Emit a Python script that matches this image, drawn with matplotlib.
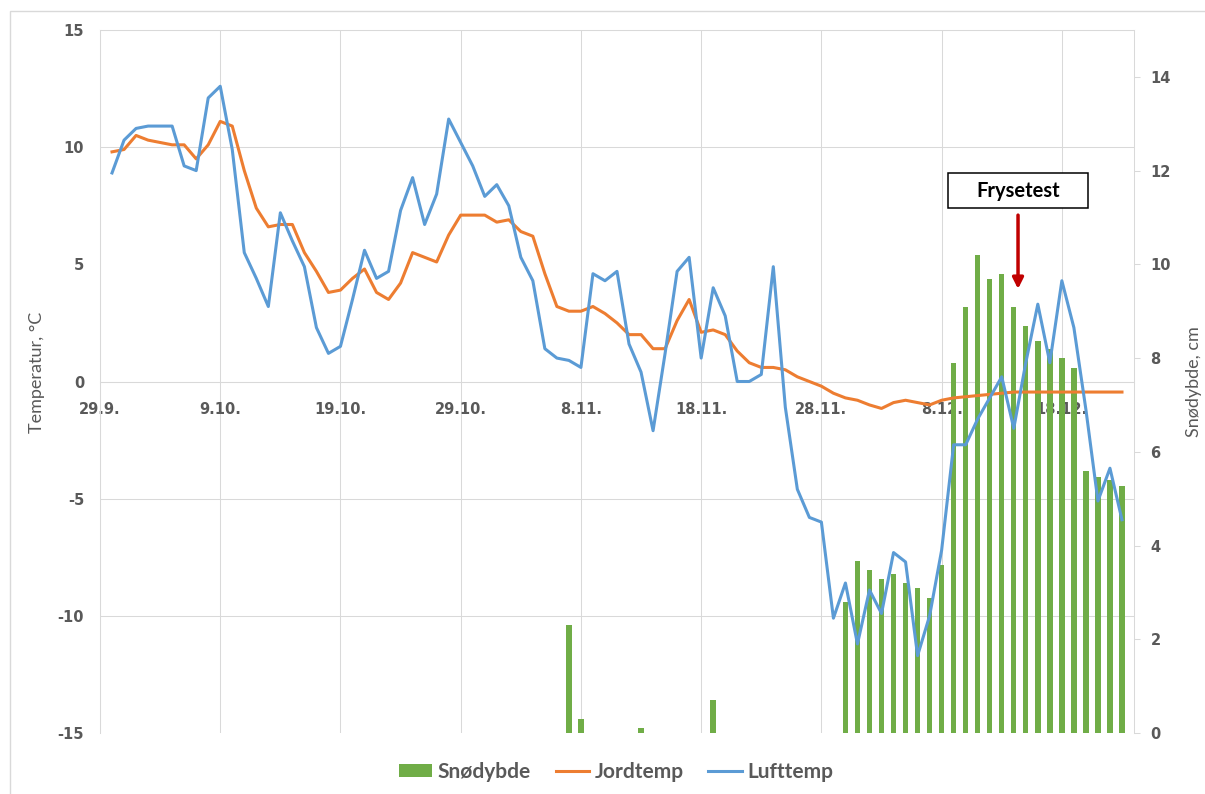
import matplotlib
matplotlib.use("Agg")
import matplotlib.pyplot as plt
import matplotlib.dates as mdates
from matplotlib.ticker import MultipleLocator, FixedLocator, FuncFormatter
from matplotlib.patches import Patch, Rectangle
from matplotlib.lines import Line2D
import pandas as pd

plt.rcParams["font.family"] = ["DejaVu Sans"]
plt.rcParams["font.weight"] = "bold"
plt.rcParams["font.size"] = 10.5
plt.rcParams["axes.unicode_minus"] = False

# ---------------- data ----------------
dates = pd.date_range("2015-09-30", "2015-12-23", freq="D")

lufttemp = [8.9, 10.3, 10.8, 10.9, 10.9, 10.9, 9.2, 9.0, 12.1, 12.6,
            9.9, 5.5, 4.4, 3.2, 7.2, 6.0, 4.9, 2.3, 1.2, 1.5,
            3.5, 5.6, 4.4, 4.7, 7.3, 8.7, 6.7, 8.0, 11.2, 10.2,
            9.2, 7.9, 8.4, 7.5, 5.3, 4.3, 1.4, 1.0, 0.9, 0.6,
            4.6, 4.3, 4.7, 1.6, 0.4, -2.1, 1.2, 4.7, 5.3, 1.0,
            4.0, 2.8, 0.0, 0.0, 0.3, 4.9, -1.1, -4.6, -5.8, -6.0,
            -10.1, -8.6, -11.2, -8.9, -9.9, -7.3, -7.7, -11.7, -10.0, -7.2,
            -2.7, -2.7, -1.6, -0.7, 0.2, -2.0, 0.8, 3.3, 0.8, 4.3,
            2.3, -1.2, -5.1, -3.7, -5.9]

jordtemp = [9.8, 9.9, 10.5, 10.3, 10.2, 10.1, 10.1, 9.5, 10.1, 11.1,
            10.9, 9.0, 7.4, 6.6, 6.7, 6.7, 5.5, 4.7, 3.8, 3.9,
            4.4, 4.8, 3.8, 3.5, 4.2, 5.5, 5.3, 5.1, 6.25, 7.1,
            7.1, 7.1, 6.8, 6.9, 6.4, 6.2, 4.6, 3.2, 3.0, 3.0,
            3.2, 2.9, 2.5, 2.0, 2.0, 1.4, 1.4, 2.6, 3.5, 2.1,
            2.2, 2.0, 1.3, 0.8, 0.6, 0.6, 0.5, 0.2, 0.0, -0.2,
            -0.5, -0.7, -0.8, -1.0, -1.15, -0.9, -0.8, -0.9, -1.0, -0.8,
            -0.7, -0.65, -0.6, -0.55, -0.5, -0.45, -0.45, -0.45, -0.45, -0.45,
            -0.45, -0.45, -0.45, -0.45, -0.45]

snow_dates = pd.to_datetime(
    ["2015-11-07", "2015-11-08", "2015-11-13", "2015-11-19"]
    + [d.strftime("%Y-%m-%d") for d in pd.date_range("2015-11-30", "2015-12-23", freq="D")])
snodybde = [2.3, 0.3, 0.1, 0.7,
            2.8, 3.67, 3.48, 3.28, 3.39, 3.19, 3.09, 2.89, 3.59, 7.89,
            9.1, 10.2, 9.69, 9.8, 9.1, 8.69, 8.37, 8.19, 8.0, 7.78,
            5.58, 5.47, 5.39, 5.28]

tick_dates = pd.date_range("2015-09-29", "2015-12-18", freq="10D")
x_start, x_end = pd.Timestamp("2015-09-29"), pd.Timestamp("2015-12-24")
temp_lim = (-15, 15)
snow_lim = (0, 15)

# annotation (data coordinates)
note_text = "Frysetest"
box_x0, box_x1 = pd.Timestamp("2015-12-08 12:30"), pd.Timestamp("2015-12-20 04:00")
box_y0, box_y1 = 7.40, 8.90
arrow_x = pd.Timestamp("2015-12-14 08:30")
arrow_from, arrow_to = 7.10, 3.95

# ---------------- style ----------------
GREEN, ORANGE, BLUE = "#70AD47", "#ED7D31", "#5B9BD5"
GRID, TXT = "#D9D9D9", "#595959"
TICKSIZE = 10.5

fig = plt.figure(figsize=(12.05, 7.94), dpi=100)
fig.patches.append(Rectangle((10 / 1205, -0.02), 1.1, 1 - 11 / 794 + 0.02,
                             transform=fig.transFigure, fill=False,
                             edgecolor=GRID, linewidth=1.0))

ax_s = fig.add_axes([100 / 1205, 1 - 733 / 794, 1034 / 1205, 703 / 794])
ax_t = ax_s.twinx()

# snow bars on base axes
ax_s.bar(snow_dates, snodybde, width=0.45, color=GREEN, zorder=3)
ax_s.set_ylim(*snow_lim)
ax_s.set_xlim(x_start, x_end)
ax_s.yaxis.tick_right()
ax_s.yaxis.set_label_position("right")
ax_s.yaxis.set_major_locator(MultipleLocator(2))
ax_s.yaxis.set_minor_locator(MultipleLocator(2.5))
ax_s.xaxis.set_major_locator(FixedLocator(mdates.date2num(tick_dates)))
ax_s.xaxis.set_major_formatter(FuncFormatter(
    lambda v, p: "{}.{}.".format(mdates.num2date(v).day, mdates.num2date(v).month)))
ax_s.set_axisbelow(True)
ax_s.grid(axis="y", which="minor", color=GRID, linewidth=0.75)
ax_s.grid(axis="x", which="major", color=GRID, linewidth=0.75)
ax_s.tick_params(axis="y", which="minor", length=0)
ax_s.tick_params(axis="y", which="major", direction="out", length=4.3, width=0.75,
                 color=GRID, pad=7.5, labelcolor=TXT, labelsize=TICKSIZE)
# category (date) axis crosses the temperature axis at 0
zero_frac = (0 - temp_lim[0]) / (temp_lim[1] - temp_lim[0])
ax_s.spines["bottom"].set_position(("axes", zero_frac))
ax_s.tick_params(axis="x", which="both", length=0, pad=14.5, labelcolor=TXT,
                 labelsize=TICKSIZE)
for sp in ax_s.spines.values():
    sp.set_color(GRID)
    sp.set_linewidth(0.75)
ax_s.set_ylabel("Snødybde, cm", family="Lato", weight="normal", size=13, color=TXT)
ax_s.yaxis.set_label_coords(1.050, 0.50)

# temperature lines on top axes
ax_t.plot(dates, jordtemp, color=ORANGE, linewidth=2.2, solid_joinstyle="round", zorder=3)
ax_t.plot(dates, lufttemp, color=BLUE, linewidth=2.2, solid_joinstyle="round", zorder=4)
ax_t.set_ylim(*temp_lim)
ax_t.yaxis.tick_left()
ax_t.yaxis.set_label_position("left")
ax_t.yaxis.set_major_locator(MultipleLocator(5))
ax_t.tick_params(axis="y", length=0, pad=11.5, labelcolor=TXT, labelsize=TICKSIZE)
for sp in ax_t.spines.values():
    sp.set_visible(False)
ax_t.set_ylabel("Temperatur, °C", family="Lato", weight="normal", size=13, color=TXT)
ax_t.yaxis.set_label_coords(-0.053, 0.513)
ax_t.set_xlim(x_start, x_end)

# Frysetest annotation
bx0, bx1 = mdates.date2num(box_x0), mdates.date2num(box_x1)
ax_t.add_patch(Rectangle((bx0, box_y0), bx1 - bx0, box_y1 - box_y0,
                         facecolor="white", edgecolor="black", linewidth=1.1, zorder=6))
ax_t.text((bx0 + bx1) / 2, (box_y0 + box_y1) / 2, note_text, ha="center", va="center",
          family="Lato", weight="bold", size=14.5, color="black", zorder=7)
ax_t.annotate("", xy=(arrow_x, arrow_to), xytext=(arrow_x, arrow_from),
              arrowprops=dict(arrowstyle="-|>", color="#C00000", lw=2.5,
                              mutation_scale=16, shrinkA=0, shrinkB=0), zorder=7)

# legend
handles = [Patch(facecolor=GREEN, edgecolor="none"),
           Line2D([], [], color=ORANGE, linewidth=2.2),
           Line2D([], [], color=BLUE, linewidth=2.2)]
fig.legend(handles, ["Snødybde", "Jordtemp", "Lufttemp"], loc="center",
           bbox_to_anchor=(616 / 1205, 1 - 772 / 794), ncol=3, frameon=False,
           prop=dict(family="Lato", weight="bold", size=15), labelcolor=TXT,
           handlelength=1.6, handleheight=0.55, handletextpad=0.25, columnspacing=1.2)

fig.savefig("out.png", dpi=100)
